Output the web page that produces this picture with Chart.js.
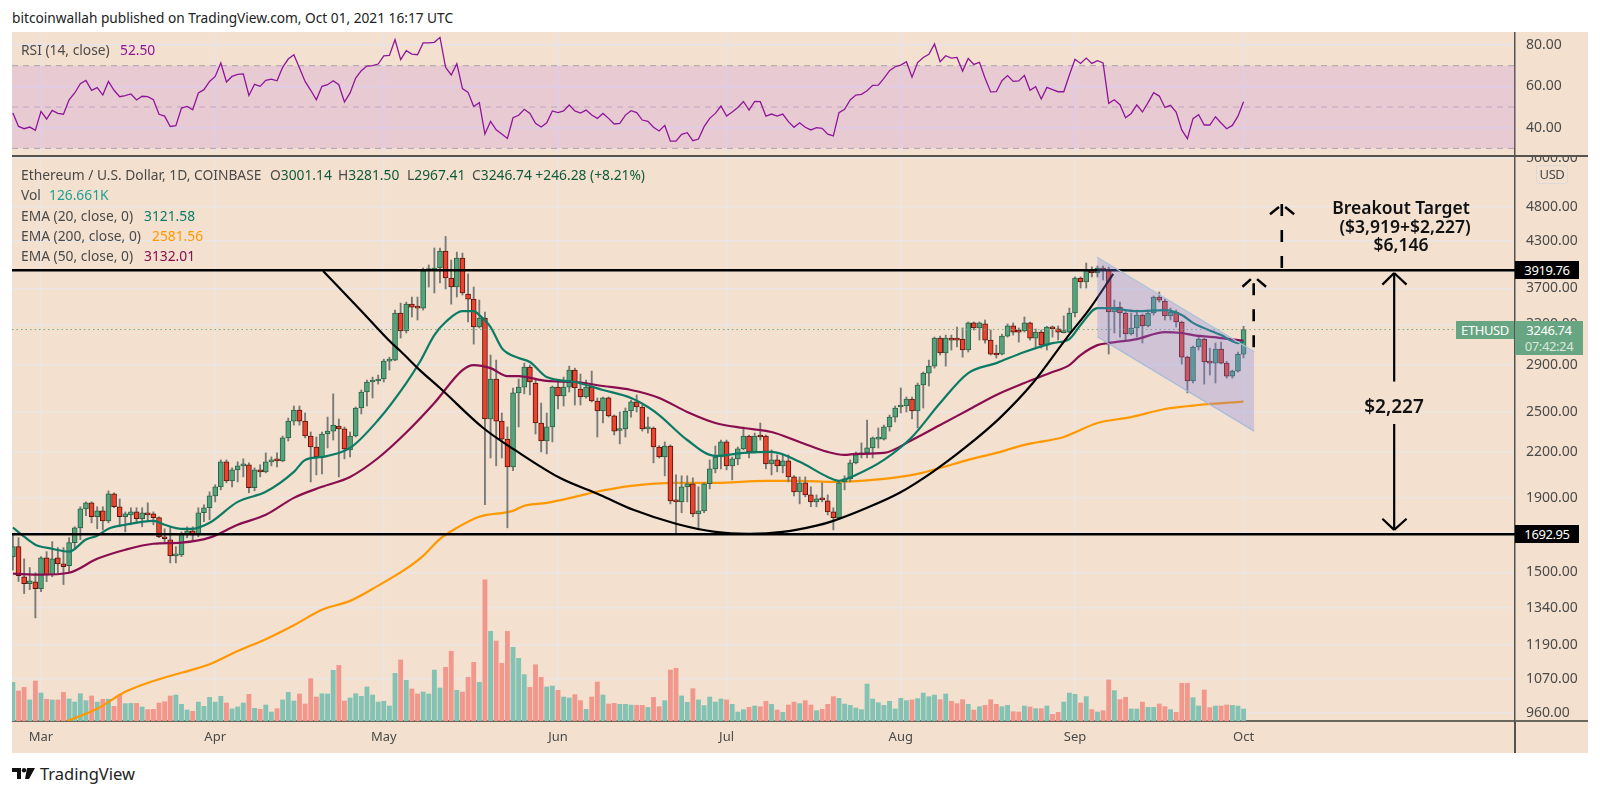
<!DOCTYPE html>
<html lang="en">
<head>
<meta charset="UTF-8">
<title>Ethereum / U.S. Dollar, 1D</title>
<script src="https://cdn.jsdelivr.net/npm/chart.js@4"></script>
<style>
  body { margin: 0; background: #fff; width: 1600px; height: 795px; overflow: hidden; position: relative; font-family: "Noto Sans", sans-serif; color: #4a4a48; }
  #panel { position: absolute; left: 12px; top: 32px; width: 1576px; height: 721px; background: #f3e0cf; }
  canvas { position: absolute; left: 12px; }
  .t { position: absolute; white-space: nowrap; font-size: 13.8px; line-height: 16px; transform: translateY(-50%); }
  .big { font-size: 17.5px; line-height: 20px; font-weight: 600; color: #111; transform: translate(-50%, -50%); }
  .chip { position: absolute; font-size: 13px; letter-spacing: -0.4px; line-height: 18px; text-align: center; box-sizing: border-box; }
  .dk { background: #000; color: #fff; }
  .gn { background: #68a582; color: #fff; }
  .sep { position: absolute; left: 12px; top: 155px; width: 1576px; height: 2px; background: #55534e; }
  .axisV { position: absolute; left: 1514px; top: 721px; width: 2px; height: 32px; background: #55534e; }
  .axisH { position: absolute; left: 1515px; top: 720px; width: 73px; height: 2px; background: #6b675c; }
</style>
</head>
<body>
<div id="panel"></div>
<canvas id="rsiChart" width="1576" height="124" style="top:32px"></canvas>
<canvas id="priceChart" width="1576" height="597" style="top:156px"></canvas>
<div class="sep"></div>
<div class="axisV"></div>
<div class="axisH"></div>

<div class="t" style="left:12px;top:18px;color:#222;font-size:13.7px">bitcoinwallah published on TradingView.com, Oct 01, 2021 16:17 UTC</div>
<div class="t" style="left:21px;top:50px">RSI (14, close)</div>
<div class="t" style="left:120px;top:50px;color:#8e1599">52.50</div>
<div class="t" style="left:21px;top:175px">Ethereum / U.S. Dollar, 1D, COINBASE</div>
<div class="t" style="left:270px;top:175px">O<span style="color:#0f5a3a">3001.14</span></div>
<div class="t" style="left:338px;top:175px">H<span style="color:#0f5a3a">3281.50</span></div>
<div class="t" style="left:407px;top:175px">L<span style="color:#0f5a3a">2967.41</span></div>
<div class="t" style="left:472px;top:175px">C<span style="color:#0f5a3a">3246.74 +246.28 (+8.21%)</span></div>
<div class="t" style="left:21px;top:195px">Vol</div>
<div class="t" style="left:49px;top:195px;color:#1ea193">126.661K</div>
<div class="t" style="left:21px;top:216px">EMA (20, close, 0)</div>
<div class="t" style="left:144px;top:216px;color:#0b7b65">3121.58</div>
<div class="t" style="left:21px;top:236px">EMA (200, close, 0)</div>
<div class="t" style="left:152px;top:236px;color:#ff9800">2581.56</div>
<div class="t" style="left:21px;top:256px">EMA (50, close, 0)</div>
<div class="t" style="left:144px;top:256px;color:#880e4f">3132.01</div>

<div class="t big" style="left:1401px;top:207px">Breakout Target</div>
<div class="t big" style="left:1405px;top:226px">($3,919+$2,227)</div>
<div class="t big" style="left:1401px;top:244px">$6,146</div>
<div class="t big" style="left:1394px;top:406px;font-size:19px">$2,227</div>

<div class="chip" style="left:1536px;top:165px;width:32px;height:19px;border:1px solid #dcd9d6;border-radius:3px;line-height:17px">USD</div>
<div class="chip dk" style="left:1515px;top:261px;width:64px;height:18px">3919.76</div>
<div class="chip dk" style="left:1515px;top:525px;width:64px;height:18px">1692.95</div>
<div class="chip gn" style="left:1456px;top:321px;width:58px;height:18px">ETHUSD</div>
<div class="chip gn" style="left:1515px;top:321px;width:68px;height:34px;line-height:16px;padding-top:1px">3246.74<br><span style="color:#d8e8dc">07:42:24</span></div>

<svg style="position:absolute;left:12px;top:767px" width="24" height="13" viewBox="0 0 24 13">
  <path d="M0 1h9v11H5V5H0z M15 1h8l-6 11h-4z" fill="#111"/><circle cx="12" cy="3.2" r="2.2" fill="#111"/>
</svg>
<div class="t" style="left:40px;top:774px;color:#222;font-size:16.5px">TradingView</div>

<script>
  // day numbers count from Mar 1 2021, first candle is Feb 24
  const firstDay = -5;
  const monthDays = [0, 31, 61, 92, 122, 153, 184, 214];
  const monthLabels = ['Mar', 'Apr', 'May', 'Jun', 'Jul', 'Aug', 'Sep', 'Oct'];
  const priceTicks = [5600, 4800, 4300, 3700, 3300, 2900, 2500, 2200, 1900, 1700, 1500, 1340, 1190, 1070, 960];
  const rsiTicks = [80, 60, 40];

  const opens = [
    1577,1628,1479,1447,1456, 1424,1571,1489,1571,1541, 1532,1649,1728,1836,1871, 1790,1824,1767,1926,1848,
    1790,1801,1818,1779,1807, 1807,1785,1680,1664,1581, 1586,1696,1712,1690,1813, 1842,1913,1969,2132,2007,
    2078,2105,2112,1963,2078, 2065,2132,2145,2138,2300, 2427,2514,2427,2314,2235, 2165,2329,2351,2389,2367,
    2214,2314,2530,2662,2748, 2757,2774,2937,2946,3422, 3232,3520,3487,3476,3915, 3924,3949,4168,3825,3717,
    4076,3635,3577,3273,3368, 2443,2774,2427,2292,2098, 2654,2704,2881,2739,2412, 2278,2382,2704,2628,2704,
    2854,2687,2620,2704,2587, 2506,2612,2467,2355,2367, 2506,2579,2538,2367,2374, 2235,2165,2242,1883,1877,
    1969,1988,1807,1824,1988, 2085,2165,2271,2105,2152, 2221,2314,2200,2314,2314, 2118,2145,2105,2138,2032,
    1938,1994,1919,1877,1895, 1883,1818,1785,2000,2019, 2125,2179,2193,2228,2292, 2292,2382,2458,2538,2546,
    2603,2506,2722,2827,2890, 3160,3013,3150,3150,3150, 3042,3316,3263,3305,3140, 3003,3003,3180,3284,3232,
    3232,3316,3160,3221,3090, 3263,3253,3215,3221,3422, 3825,3777,3924,3887,3937, 3924,3433,3487,3422,3201,
    3263,3400,3284,3422,3600, 3555,3390,3433,3326,2974, 2757,3071,3150,2928,2918, 3052,2918,2800,2845,3001
  ];
  const closes = [
    1628,1484,1447,1460,1424, 1571,1489,1566,1541,1527, 1649,1728,1836,1871,1790, 1824,1767,1926,1848,1790,
    1807,1818,1779,1813,1801, 1785,1680,1669,1581,1586, 1696,1712,1690,1813,1842, 1913,1969,2132,2007,2078,
    2105,2112,1963,2078,2065, 2132,2145,2138,2300,2427, 2514,2427,2314,2235,2165, 2329,2351,2396,2367,2221,
    2314,2530,2662,2748,2757, 2774,2937,2946,3422,3232, 3520,3487,3476,3912,3937, 3937,4168,3825,3717,4076,
    3647,3577,3273,3368,2443, 2774,2427,2292,2098,2654, 2704,2881,2748,2412,2278, 2382,2704,2628,2704,2854,
    2696,2620,2704,2587,2506, 2612,2467,2351,2362,2506, 2579,2538,2367,2374,2235, 2165,2242,1883,1877,1969,
    1988,1807,1824,1988,2085, 2165,2271,2105,2152,2221, 2314,2200,2314,2307,2118, 2145,2105,2138,2032,1938,
    1994,1919,1877,1895,1889, 1818,1785,1994,2019,2125, 2179,2193,2228,2300,2300, 2382,2458,2530,2554,2603,
    2506,2722,2827,2890,3160, 3013,3160,3140,3140,3042, 3316,3263,3316,3140,3003, 2994,3180,3284,3221,3221,
    3316,3160,3221,3090,3273, 3253,3221,3225,3422,3825, 3777,3924,3887,3949,3924, 3433,3487,3422,3201,3263,
    3400,3284,3422,3600,3566, 3390,3433,3326,2974,2757, 3071,3150,2928,2918,3052, 2918,2800,2845,3001,3247
  ];
  const highs = [
    1690,1675,1566,1523,1498, 1577,1602,1654,1623,1623, 1675,1734,1848,1877,1877, 1848,1848,1944,1932,1895,
    1818,1842,1842,1842,1871, 1818,1790,1723,1734,1628, 1706,1734,1734,1842,1860, 1938,1982,2145,2145,2091,
    2132,2152,2125,2091,2112, 2193,2165,2193,2314,2450, 2546,2546,2490,2344,2307, 2344,2458,2646,2443,2382,
    2344,2538,2679,2765,2791, 2809,2955,2974,3454,3531, 3543,3600,3600,3949,3987, 4208,4208,4365,4050,4154,
    4141,3875,3717,3566,3433, 2994,2946,2490,2382,2696, 2774,2918,2900,2765,2570, 2490,2713,2748,2791,2890,
    2872,2818,2765,2845,2612, 2620,2620,2474,2498,2530, 2595,2637,2554,2458,2382, 2245,2271,2250,2045,2039,
    2039,2026,1969,1994,2145, 2242,2285,2285,2165,2235, 2382,2322,2336,2412,2322, 2214,2179,2179,2179,2040,
    2032,2032,1969,1919,1994, 1919,1842,2000,2039,2145, 2200,2264,2435,2307,2374, 2396,2474,2546,2696,2620,
    2620,2739,2836,2946,3170, 3180,3190,3190,3273,3263, 3326,3326,3326,3347,3242, 3090,3201,3305,3316,3263,
    3379,3326,3253,3242,3280, 3284,3284,3390,3476,3838, 3838,4012,3962,3974,3974, 3960,3566,3543,3440,3422,
    3454,3411,3454,3612,3659, 3577,3476,3454,3335,2984, 3080,3170,3160,3061,3110, 3120,2935,2854,3023,3281
  ];
  const lows = [
    1510,1457,1402,1420,1298, 1411,1456,1479,1498,1443, 1503,1612,1664,1796,1756, 1723,1717,1756,1842,1734,
    1706,1745,1762,1734,1762, 1745,1675,1654,1546,1546, 1577,1675,1659,1680,1762, 1773,1877,1950,1994,1969,
    2000,2032,1932,1944,2032, 2058,2105,2098,2132,2278, 2396,2396,2300,2000,2045, 2052,2228,2285,2032,2152,
    2165,2307,2482,2546,2612, 2730,2748,2854,2940,3160, 3211,3379,3347,3454,3717, 3647,3766,3694,3520,3600,
    3624,3326,3100,3263,1860, 2158,2105,2158,1728,2072, 2382,2646,2637,2329,2200, 2186,2271,2522,2546,2662,
    2554,2554,2610,2579,2307, 2412,2458,2322,2257,2307, 2458,2498,2351,2336,2125, 2158,2039,1865,1700,1813,
    1877,1790,1717,1813,1956, 2058,2085,2078,2013,2112, 2214,2158,2193,2285,2085, 2045,2065,2058,2000,1913,
    1865,1907,1848,1848,1877, 1801,1717,1775,1950,2000, 2118,2158,2158,2158,2228, 2285,2351,2420,2490,2498,
    2443,2374,2530,2713,2872, 2994,2890,3042,3071,2974, 3023,3242,3140,3110,2994, 2965,2994,3170,3190,3120,
    3221,3140,3071,3061,3042, 3170,3140,3211,3211,3379, 3705,3705,3838,3838,3801, 3003,3211,3170,3140,3190,
    3170,3110,3273,3400,3543, 3347,3347,3273,2909,2654, 2739,3042,2730,2809,2739, 2910,2782,2782,2836,2967
  ];
  // volume in thousands
  const volumes = [
    408,317,355,222,422, 295,229,222,222,302, 232,200,288,215,264, 200,229,229,155,274,
    183,186,186,148,120, 123,190,204,264,274, 176,116,102,200,155, 250,200,260,190,127,
    148,190,281,134,123, 169,95,130,222,302, 211,285,179,447,253, 288,285,535,587,211,
    243,288,260,359,274, 200,208,158,503,644, 429,338,285,306,285, 538,348,566,735,324,
    306,461,619,408,1488, 946,844,608,946,777, 661,489,355,594,461, 359,369,324,253,243,
    278,215,123,253,411, 274,179,186,176,176, 168,165,165,144,250, 151,215,538,556,264,
    197,341,222,162,253, 200,232,222,176,95, 120,144,158,151,208, 176,116,91,169,200,
    183,215,169,109,123, 176,257,239,179,165, 137,120,390,232,193, 165,208,127,239,215,
    222,236,295,257,274, 225,285,208,183,225, 176,116,151,165,225, 176,151,165,98,95,
    158,148,130,130,158, 70,91,200,295,281, 190,257,120,95,109, 433,320,225,250,127,
    127,200,144,144,179, 151,120,91,397,397, 246,158,327,141,158, 158,169,165,158,127
  ];
  const rsiValues = [
    47.1,40.6,39.5,40.3,38.7, 47.9,44.2,48.4,46.9,46.5, 53.5,56.8,61.3,62.9,58.1, 59.4,55.8,62.4,58.1,55,
    55.5,56.3,53.4,55.2,55, 53.5,46.5,45.6,40.6,41, 49.5,50.3,48.7,56.8,58.4, 62.4,64.8,71.3,62.1,64.8,
    65.8,66,55.6,61,60, 62.9,63.5,62.7,69.2,73.2, 75.3,68.9,62.4,58.1,53.5, 60,60.8,62.7,60.8,52.4,
    56.8,64,67.6,69.8,70, 70.8,74.8,75,82.6,72.9, 77.3,75.6,75.3,81,81, 81.3,83.7,69.2,65.5,71,
    58.9,57.1,50.2,52.1,36.9, 43.1,39,36.9,34.8,44.8, 46,48.9,46.9,42.1,40.3, 42.4,48.1,47.3,48.1,51,
    48.1,47.1,48.5,46.1,44.5, 46.9,44.5,41.8,42.1,46.1, 48.2,47.3,43.7,43.1,40.2, 38.4,41.1,33.5,33.5,36.8,
    37.6,33.7,34.5,40.5,44.5, 46.9,50.5,45.6,47.6,49.8, 52.7,48.5,52.7,52.6,45.6, 46.6,45.6,46.6,42.9,40.2,
    42.4,40.2,38.9,40,39.7, 36.9,36,47.3,48.9,53.4, 55.8,56.1,57.9,60.5,60.6, 63.9,67.6,69.5,70.3,71.9,
    64.4,71.5,74,75.5,80.5, 71.9,74.8,73.7,74,67.4, 73.5,70.6,71.6,63.9,57.3, 57.4,62.7,65.2,62.4,62.6,
    65.3,58.1,59.8,53.9,59.5, 58.4,57.4,57.4,65.5,73.1, 71.1,73.7,71.1,72.4,71.3, 51.8,53.5,51.1,44.8,46.9,
    51,47.6,52.1,56.9,55.3, 49.8,50.8,47.6,38.9,34.7, 44.4,46.3,41.3,41.3,45.3, 42.3,39.5,41.1,45.6,52.5
  ];

  // moving averages read at these days
  const ema20Days = [-5,-3,-1,2,5,8,10,12,15,20,22,25,27,30,35,40,45,47,50,55,60,65,67.4,70,72,75,77,78,80,82,83,85,87,90,95,100,105,108,110,115,120,125,130,135,140,142,145,150,155,160,165,170,175,180,183,185,188,190,195,200,203,205,210,213,214];
  const ema20Values = [1730,1680,1638,1617,1602,1665,1685,1723,1745,1767,1745,1723,1723,1756,1877,1938,2065,2145,2165,2228,2435,2739,2928,3190,3326,3443,3443,3400,3273,3061,3013,2965,2928,2791,2748,2679,2612,2538,2474,2285,2172,2193,2200,2132,2032,2007,2045,2145,2307,2570,2827,2918,3023,3110,3150,3295,3476,3476,3443,3454,3400,3316,3190,3110,3122];
  const ema50Days = [-5,0,5,10,15,20,25,30,35,40,45,50,55,60,65,70,75,77,80,83,85,90,95,100,105,110,115,120,125,130,135,140,143,145,150,155,160,165,170,175,180,183,185,188,190,195,200,203,205,210,214];
  const ema50Values = [1494,1489,1498,1566,1612,1643,1649,1675,1745,1801,1901,1969,2032,2158,2340,2570,2854,2900,2872,2800,2800,2757,2748,2713,2679,2612,2498,2412,2374,2344,2271,2200,2179,2186,2193,2285,2396,2514,2637,2739,2836,2900,2994,3090,3110,3150,3221,3211,3190,3160,3132];
  const ema200Days = [4.7,10,15,20,25,30,35,40,45,50,55,60,65,68,71,74,78,84,86,90,95,98,105,113,120,129,135,141,150,156,160,165,170,175,182,188,194,200,206,214];
  const ema200Values = [935,972,1026,1062,1090,1120,1168,1213,1268,1332,1370,1438,1518,1581,1669,1728,1790,1824,1854,1871,1907,1932,1975,1994,1994,2007,2007,2000,2019,2052,2091,2145,2193,2250,2307,2412,2458,2522,2554,2582];

  // drawn cup curve
  const cupDays = [50.2,57,62.4,64,67.4,71,78.7,84.3,92.3,99.5,105.4,113,120,126,132,138,141,147,152.8,158.7,164.6,170.6,176.5,182.5,186.7,190.8];
  const cupPrices = [3912,3445,3110,3030,2854,2696,2374,2214,2026,1919,1830,1751,1706,1696,1706,1740,1767,1842,1932,2065,2235,2450,2739,3160,3476,3875];

  const resistance = 3919.76;
  const support = 1692.95;
  const lastClose = 3246.74;
  const xMin = -5.16;
  const xMax = 262.3;
  const priceMin = 935;
  const priceMax = 5638;

  const channelDays = [187.95, 215.9];
  const channelTop = [4085, 3025];
  const channelBottom = [3173, 2350];

  // [day, price, day, price]
  const solidSegments = [
    [240.8, 2752, 240.8, 3887], [238.7, 3745, 240.8, 3887], [243, 3745, 240.8, 3887],
    [240.8, 2405, 240.8, 1717], [238.7, 1779, 240.8, 1717], [243, 1779, 240.8, 1717]
  ];
  const dashedStems = [[215.8, 3070, 215.8, 3866], [220.8, 3948, 220.8, 4855]];
  const dashedWings = [
    [213.8, 3720, 215.3, 3812], [218, 3720, 216.4, 3812],
    [218.7, 4684, 220.3, 4794], [223, 4684, 221.4, 4794]
  ];

  const upColor = '#55a37b', downColor = '#e8442f';
  const upEdge = '#2a6448', downEdge = '#5e130a';
  const fontName = '"Noto Sans", sans-serif';

  const isUp = opens.map((o, i) => closes[i] >= o);
  const pairs = (xs, ys) => xs.map((x, i) => ({ x: x, y: ys[i] }));
  const dayOf = i => i + firstDay;

  function lineSet(data, color, width, order, extra) {
    return Object.assign({
      type: 'line', data: data, borderColor: color, borderWidth: width, order: order,
      pointRadius: 0, fill: false, yAxisID: 'y', borderCapStyle: 'butt'
    }, extra || {});
  }
  const segmentSet = (s, dash, width) => lineSet([{ x: s[0], y: s[1] }, { x: s[2], y: s[3] }], '#000', width, 2, { borderDash: dash });
  const smooth = { cubicInterpolationMode: 'monotone' };

  function fixedRightAxis(scale) {
    scale.width = 73;
    scale.paddingTop = 0;
    scale.paddingBottom = 0;
  }

  const monthTicks = scale => { scale.ticks = monthDays.map(v => ({ value: v })); };

  // RSI pane
  new Chart(document.getElementById('rsiChart'), {
    type: 'line',
    data: {
      datasets: [
        lineSet(pairs([xMin, xMax], [70, 70]), '#a9a3ad', 1, 3, { borderDash: [6, 5], yAxisID: 'y', fill: '+1', backgroundColor: 'rgba(188,119,227,0.2)' }),
        lineSet(pairs([xMin, xMax], [30, 30]), '#a9a3ad', 1, 3, { borderDash: [6, 5] }),
        lineSet(pairs([xMin, xMax], [50, 50]), '#c4afbd', 1, 3, { borderDash: [6, 5] }),
        lineSet(rsiValues.map((v, i) => ({ x: dayOf(i), y: v })), '#8e1599', 1.3, 1)
      ]
    },
    options: {
      responsive: false,
      animation: false,
      plugins: { legend: { display: false }, tooltip: { enabled: false } },
      layout: { padding: 0 },
      scales: {
        x: {
          type: 'linear', min: xMin, max: xMax,
          afterBuildTicks: monthTicks,
          afterFit: s => { s.height = 0; s.paddingLeft = 0; s.paddingRight = 0; },
          border: { display: false },
          grid: { color: '#e8e2ea', lineWidth: 1.5, drawTicks: false },
          ticks: { display: false }
        },
        y: {
          position: 'right', min: 26.3, max: 86.3,
          afterBuildTicks: s => { s.ticks = rsiTicks.map(v => ({ value: v })); },
          afterFit: fixedRightAxis,
          border: { display: true, color: '#55534e', width: 1.5 },
          grid: { color: '#e8e2ea', lineWidth: 1.5, drawTicks: false },
          ticks: { padding: 11, color: '#4a4a48', font: { family: fontName, size: 14 }, callback: v => v.toFixed(2) }
        }
      }
    }
  });

  // price and volume pane
  new Chart(document.getElementById('priceChart'), {
    type: 'bar',
    data: {
      datasets: [
        {
          // volume
          data: volumes.map((v, i) => ({ x: dayOf(i), y: v })), yAxisID: 'vol', order: 20, grouped: false, barThickness: 4.2,
          backgroundColor: isUp.map(u => u ? '#84c2b3' : '#f2978c')
        },
        lineSet(pairs(ema200Days, ema200Values), '#ff9800', 2.2, 15, smooth),
        {
          // wicks
          data: lows.map((l, i) => ({ x: dayOf(i), y: [l, highs[i]] })), yAxisID: 'y', order: 12, grouped: false, barThickness: 1.2,
          backgroundColor: '#777a76'
        },
        {
          // bodies
          data: opens.map((o, i) => ({ x: dayOf(i), y: [o, closes[i]] })), yAxisID: 'y', order: 11, grouped: false, barThickness: 5, minBarLength: 2,
          backgroundColor: isUp.map(u => u ? upColor : downColor),
          borderColor: isUp.map(u => u ? upEdge : downEdge),
          borderWidth: 1, borderSkipped: false
        },
        lineSet(pairs(ema50Days, ema50Values), '#880e4f', 2.2, 9, smooth),
        lineSet(pairs(ema20Days, ema20Values), '#0b7b65', 2.2, 8, smooth),
        lineSet(pairs([xMin, xMax], [lastClose, lastClose]), '#6fae8b', 1, 7, { borderDash: [1.5, 3] }),
        lineSet(pairs(cupDays, cupPrices), '#000', 2.2, 5, smooth),
        lineSet(pairs([xMin, xMax], [resistance, resistance]), '#000', 2.4, 4),
        lineSet(pairs([xMin, xMax], [support, support]), '#000', 2.4, 4),
        lineSet(pairs(channelDays, channelTop), '#a9c4d8', 1.2, 3, { fill: '+1', backgroundColor: 'rgba(126,128,230,0.3)' }),
        lineSet(pairs(channelDays, channelBottom), '#a9c4d8', 1.2, 3),
        ...solidSegments.map(s => segmentSet(s, [], 2.2)),
        ...dashedStems.map(s => segmentSet(s, [12, 14], 2.6)),
        ...dashedWings.map(s => segmentSet(s, [], 2.4))
      ]
    },
    options: {
      responsive: false,
      animation: false,
      plugins: { legend: { display: false }, tooltip: { enabled: false } },
      layout: { padding: 0 },
      scales: {
        x: {
          type: 'linear', min: xMin, max: xMax, offset: false,
          afterBuildTicks: monthTicks,
          afterFit: s => { s.height = 32; s.paddingLeft = 0; s.paddingRight = 0; },
          border: { display: true, color: '#6b675c', width: 2 },
          grid: { offset: false, color: '#ebe6e3', lineWidth: 1.5, drawTicks: false },
          ticks: {
            padding: 8, autoSkip: false, maxRotation: 0, color: '#4a4a48', font: { family: fontName, size: 13 },
            callback: v => monthLabels[monthDays.indexOf(v)]
          }
        },
        y: {
          type: 'logarithmic', position: 'right', min: priceMin, max: priceMax, beginAtZero: false,
          afterBuildTicks: s => { s.ticks = priceTicks.map(v => ({ value: v })); },
          afterFit: fixedRightAxis,
          border: { display: true, color: '#55534e', width: 1.5 },
          grid: { color: '#ebe6e3', lineWidth: 1.5, drawTicks: false },
          ticks: { padding: 11, autoSkip: false, color: '#4a4a48', font: { family: fontName, size: 14 }, callback: v => v.toFixed(2) }
        },
        vol: { type: 'linear', display: false, min: 0, max: 5960 }
      }
    }
  });
</script>
</body>
</html>
